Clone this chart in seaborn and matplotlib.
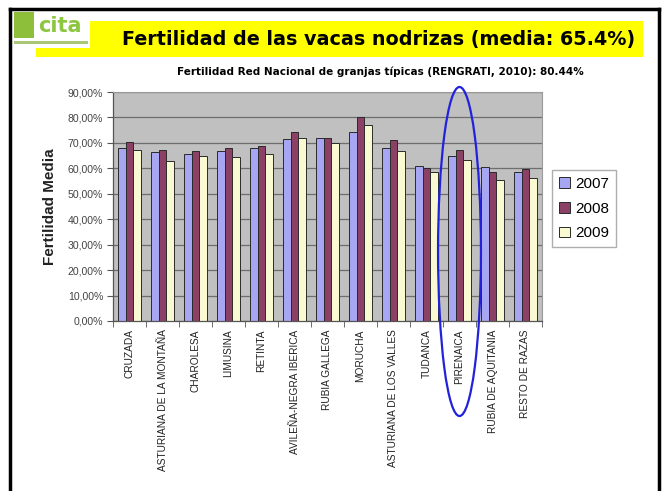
import matplotlib
matplotlib.use("Agg")
import matplotlib.pyplot as plt
import matplotlib.transforms as mtransforms
from matplotlib.patches import Rectangle, Ellipse
from matplotlib.lines import Line2D
import seaborn as sns
import pandas as pd

plt.rcParams['font.family'] = ['Liberation Sans', 'DejaVu Sans']

razas = ["CRUZADA", "ASTURIANA DE LA MONTAÑA", "CHAROLESA", "LIMUSINA", "RETINTA",
         "AVILEÑA-NEGRA IBERICA", "RUBIA GALLEGA", "MORUCHA", "ASTURIANA DE LOS VALLES",
         "TUDANCA", "PIRENAICA", "RUBIA DE AQUITANIA", "RESTO DE RAZAS"]
v2007 = [68.0, 66.5, 65.8, 67.0, 67.8, 71.7, 72.0, 74.3, 68.0, 61.1, 65.0, 60.6, 58.5]
v2008 = [70.4, 67.2, 67.0, 68.0, 68.6, 74.3, 72.0, 80.2, 71.2, 60.0, 67.1, 58.5, 59.8]
v2009 = [67.2, 62.9, 65.0, 64.6, 65.7, 72.1, 70.0, 77.2, 66.9, 58.5, 63.3, 55.6, 56.1]
years = ["2007", "2008", "2009"]
yticks = [0, 10, 20, 30, 40, 50, 60, 70, 80, 90]

title = "Fertilidad de las vacas nodrizas (media: 65.4%)"
subtitle = "Fertilidad Red Nacional de granjas típicas (RENGRATI, 2010): 80.44%"

rows = []
for yr, vals in zip(years, [v2007, v2008, v2009]):
    for r, v in zip(razas, vals):
        rows.append({"raza": r, "año": yr, "valor": v})
df = pd.DataFrame(rows)

W, H = 669, 491
fig = plt.figure(figsize=(W / 100, H / 100), dpi=100)
fig.patch.set_facecolor("white")

def fx(px):
    return px / W

def fy(py):
    return 1 - py / H

# slide frame
fig.add_artist(Line2D([fx(10), fx(659)], [fy(9), fy(9)], color="black", lw=2.5, transform=fig.transFigure))
fig.add_artist(Line2D([fx(10), fx(10)], [fy(9), fy(496)], color="black", lw=2.5, transform=fig.transFigure))
fig.add_artist(Line2D([fx(659), fx(659)], [fy(9), fy(496)], color="black", lw=2.5, transform=fig.transFigure))

# yellow title band
fig.add_artist(Rectangle((fx(36), fy(57)), fx(643) - fx(36), fy(21) - fy(57),
                         facecolor="#ffff00", edgecolor="none", transform=fig.transFigure))
# logo area
fig.add_artist(Rectangle((fx(12), fy(48)), fx(90) - fx(12), fy(11) - fy(48),
                         facecolor="white", edgecolor="none", transform=fig.transFigure))
fig.add_artist(Rectangle((fx(14), fy(38)), fx(34) - fx(14), fy(12) - fy(38),
                         facecolor="#8dbf3a", edgecolor="none", transform=fig.transFigure))
fig.add_artist(Rectangle((fx(14), fy(44)), fx(88) - fx(14), fy(41) - fy(44),
                         facecolor="#a8c878", edgecolor="none", transform=fig.transFigure))
fig.text(fx(38), fy(26), "cita", color="#8dc63f", fontsize=15, fontweight="bold",
         ha="left", va="center", family=["DejaVu Sans"])

fig.text(fx(379), fy(40), title, fontsize=13.8, fontweight="bold", ha="center", va="center",
         color="black", family=["DejaVu Sans"])
fig.text(fx(380), fy(72), subtitle, fontsize=7.5, fontweight="bold", ha="center", va="center",
         color="black", family=["DejaVu Sans"])

ax = fig.add_axes([fx(113), fy(321), fx(542) - fx(113), fy(92) - fy(321)])
ax.set_facecolor("#c0c0c0")
ax.set_axisbelow(True)
ax.yaxis.grid(True, color="#6e6e6e", lw=0.9)

palette = {"2007": "#9999ff", "2008": "#993366", "2009": "#ffffcc"}
sns.barplot(data=df, x="raza", y="valor", hue="año", palette=palette, width=0.67, gap=0,
            edgecolor="#2a2a2a", linewidth=0.7, ax=ax, errorbar=None)

ax.set_ylim(0, 90)
ax.set_xlim(-0.5, len(razas) - 0.5)
ax.set_yticks(yticks)
ax.set_yticklabels([f"{v:.2f}%".replace(".", ",") for v in yticks], fontsize=7.6, color="#444444")
ax.set_xticks(range(len(razas)))
ax.set_xticklabels(razas, rotation=90, fontsize=7.3, color="#222222")
ax.tick_params(axis="x", length=0, pad=6)
ax.set_xticks([i - 0.5 for i in range(len(razas) + 1)], minor=True)
ax.tick_params(axis="x", which="minor", length=4, color="#555555")
ax.tick_params(axis="y", length=4, color="#555555", pad=3)
ax.set_xlabel("")
ax.set_ylabel("Fertilidad Media", fontsize=11, fontweight="bold", labelpad=8, color="#222222")
for s in ["top", "right"]:
    ax.spines[s].set_color("#9a9a9a")
    ax.spines[s].set_linewidth(0.8)
for s in ["left", "bottom"]:
    ax.spines[s].set_color("#555555")
    ax.spines[s].set_linewidth(0.9)

handles, labels = ax.get_legend_handles_labels()
ax.legend(handles, labels, loc="upper left", bbox_to_anchor=(fx(552), fy(170)),
          bbox_transform=fig.transFigure, fontsize=11, frameon=True, fancybox=False,
          edgecolor="#9a9a9a", handlelength=0.7, handleheight=0.7, handletextpad=0.35,
          labelspacing=0.7, borderpad=0.45, borderaxespad=0, title=None)

# highlight ellipse around PIRENAICA
idx = razas.index("PIRENAICA")
trans = mtransforms.blended_transform_factory(ax.transData, fig.transFigure)
ell = Ellipse((idx, (fy(87) + fy(416)) / 2), 1.3, fy(87) - fy(416), transform=trans,
              fill=False, edgecolor="#2222dd", lw=1.6, clip_on=False)
fig.add_artist(ell)

fig.savefig("out.png", dpi=100)
